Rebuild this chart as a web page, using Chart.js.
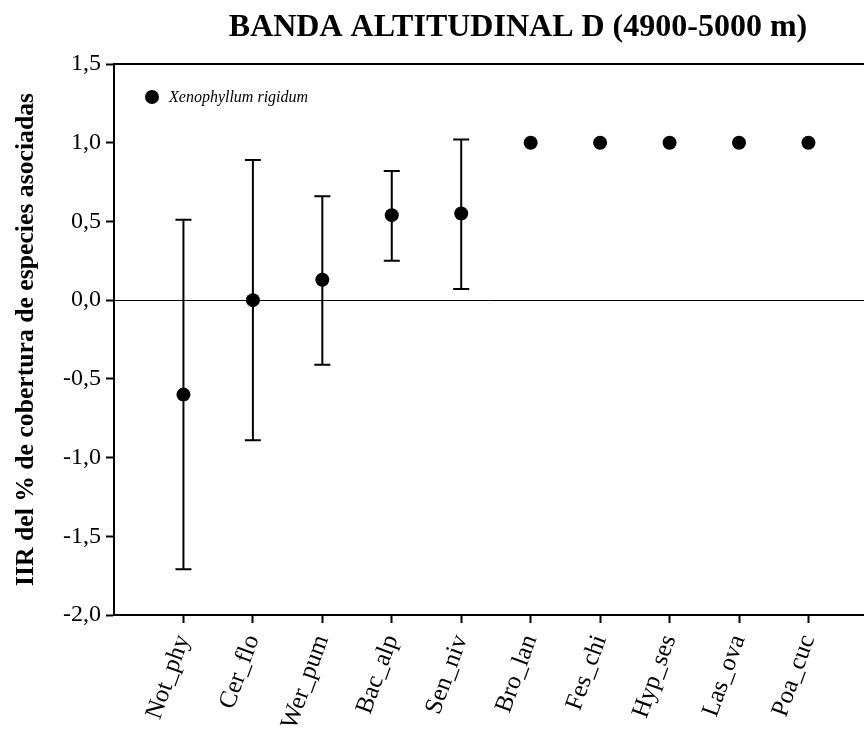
<!DOCTYPE html>
<html>
<head>
<meta charset="utf-8">
<script src="https://cdn.jsdelivr.net/npm/chart.js@4.4.1/dist/chart.umd.min.js"></script>
<style>
html, body { margin: 0; padding: 0; background: #fff; overflow: hidden; }
</style>
</head>
<body>
<canvas id="chart" width="864" height="737"></canvas>
<script>
// species codes along the x axis
const species = ['Not_phy', 'Cer_flo', 'Wer_pum', 'Bac_alp', 'Sen_niv',
                 'Bro_lan', 'Fes_chi', 'Hyp_ses', 'Las_ova', 'Poa_cuc'];
// IIR mean and interval limits (null = no error bar)
const iirMean  = [-0.60, 0.00, 0.13, 0.54, 0.55, 1.00, 1.00, 1.00, 1.00, 1.00];
const iirUpper = [0.51, 0.89, 0.66, 0.82, 1.02, null, null, null, null, null];
const iirLower = [-1.71, -0.89, -0.41, 0.25, 0.07, null, null, null, null, null];
const yTicks = [-2.0, -1.5, -1.0, -0.5, 0.0, 0.5, 1.0, 1.5];

const serif = 'Liberation Serif';

const errorBars = {
    id: 'errorBars',
    beforeDatasetsDraw(chart) {
        const {ctx, scales: {x, y}} = chart;
        ctx.save();
        ctx.strokeStyle = '#000';
        ctx.lineWidth = 2;
        species.forEach((s, i) => {
            if (iirUpper[i] === null) return;
            const px = x.getPixelForValue(i + 1);
            const top = y.getPixelForValue(iirUpper[i]);
            const bot = y.getPixelForValue(iirLower[i]);
            ctx.beginPath();
            ctx.moveTo(px, top); ctx.lineTo(px, bot);
            ctx.moveTo(px - 8, top); ctx.lineTo(px + 8, top);
            ctx.moveTo(px - 8, bot); ctx.lineTo(px + 8, bot);
            ctx.stroke();
        });
        ctx.restore();
    }
};

const titleAndLegend = {
    id: 'titleAndLegend',
    afterDraw(chart) {
        const {ctx, chartArea} = chart;
        ctx.save();
        ctx.fillStyle = '#000';
        ctx.textAlign = 'center';
        ctx.textBaseline = 'middle';
        ctx.font = 'bold 32px "' + serif + '"';
        ctx.fillText('BANDA ALTITUDINAL D (4900-5000 m)', 518, 28);

        const lx = chartArea.left + 38, ly = chartArea.top + 33;
        ctx.beginPath();
        ctx.arc(lx, ly, 7, 0, Math.PI * 2);
        ctx.fill();
        ctx.textAlign = 'left';
        ctx.font = 'italic 16px "' + serif + '"';
        ctx.fillText(chart.data.datasets[0].label, lx + 17, ly + 1);
        ctx.restore();
    }
};

new Chart(document.getElementById('chart'), {
    type: 'scatter',
    data: {
        datasets: [{
            label: 'Xenophyllum rigidum',
            data: species.map((s, i) => ({x: i + 1, y: iirMean[i]})),
            pointRadius: 7,
            pointHoverRadius: 7,
            backgroundColor: '#000',
            borderWidth: 0
        }]
    },
    options: {
        responsive: false,
        animation: false,
        layout: { autoPadding: false, padding: { top: 64, right: 0, left: 0, bottom: 0 } },
        plugins: {
            legend: { display: false },
            title: { display: false },
            tooltip: { enabled: false }
        },
        scales: {
            x: {
                type: 'linear',
                min: 0,
                max: 10.8,
                afterBuildTicks: ax => { ax.ticks = species.map((s, i) => ({value: i + 1})); },
                afterFit: ax => { ax.height = 122; ax.paddingLeft = 0; ax.paddingRight = 0; },
                grid: { drawOnChartArea: false, tickLength: 8, tickWidth: 2, tickColor: '#000' },
                border: { display: true, color: '#000', width: 2 },
                ticks: {
                    autoSkip: false,
                    minRotation: 70,
                    maxRotation: 70,
                    padding: 8,
                    color: '#000',
                    font: { family: serif, size: 25 },
                    callback: v => species[v - 1]
                }
            },
            x2: {
                type: 'linear',
                position: 'top',
                min: 0,
                max: 10.8,
                afterFit: ax => { ax.height = 0; ax.paddingLeft = 0; ax.paddingRight = 0; },
                grid: { display: false },
                border: { display: true, color: '#000', width: 2 },
                ticks: { display: false }
            },
            y: {
                min: -2,
                max: 1.5,
                afterBuildTicks: ax => { ax.ticks = yTicks.map(v => ({value: v})); },
                afterFit: ax => { ax.width = 114; },
                grid: {
                    color: c => (c.tick && c.tick.value === 0 ? '#000' : 'rgba(0,0,0,0)'),
                    lineWidth: 1,
                    tickLength: 8,
                    tickWidth: 2,
                    tickColor: '#000'
                },
                border: { display: true, color: '#000', width: 2 },
                ticks: {
                    padding: 5,
                    color: '#000',
                    font: { family: serif, size: 24 },
                    callback: v => v.toFixed(1).replace('.', ',')
                },
                title: {
                    display: true,
                    text: 'IIR del % de cobertura de especies asociadas',
                    color: '#000',
                    font: { family: serif, size: 25.7, weight: 'bold' },
                    padding: { top: 11, bottom: 0 }
                }
            }
        }
    },
    plugins: [errorBars, titleAndLegend]
});
</script>
</body>
</html>
